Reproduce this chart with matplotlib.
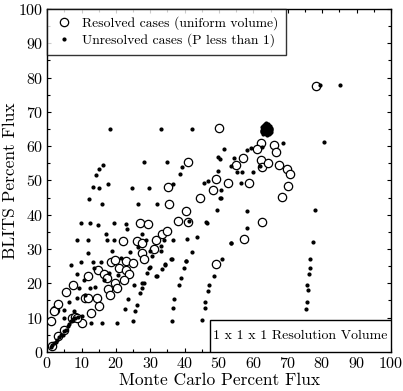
import matplotlib
matplotlib.use('Agg')
import matplotlib.pyplot as plt
from matplotlib.patches import Rectangle

plt.rcParams['font.family'] = ['cmr10', 'DejaVu Serif']
plt.rcParams['axes.formatter.use_mathtext'] = True

# resolved cases (open circles)
res_x = [1.4, 2.3, 3.3, 4.8, 7.2, 8.2, 1.1, 2.1, 3.2, 5.4, 7.4, 10.0, 8.6, 11.8, 11.1, 12.0,
         12.8, 14.5, 15.2, 14.8, 16.4, 17.4, 17.7, 18.4, 18.6, 19.8, 19.8, 20.3, 21.0, 22.1,
         23.0, 23.0, 23.7, 22.5, 25.0, 26.0, 26.9, 27.6, 27.6, 29.4, 28.1, 31.2, 31.7, 33.4,
         34.9, 35.1, 35.4, 40.4, 41.0, 40.9, 44.5, 38.1, 49.9, 48.3, 49.2, 52.6, 58.7, 55.0,
         57.0, 62.1, 61.1, 66.0, 66.5, 62.1, 62.4, 64.2, 67.4, 69.7, 70.6, 70.2, 68.4, 62.4,
         57.4, 49.2, 78.1]
res_y = [1.8, 12.1, 4.5, 6.5, 9.9, 10.1, 8.9, 11.8, 14.1, 17.5, 19.5, 8.4, 10.0, 22.1, 15.7, 15.7,
         11.3, 15.7, 13.3, 24.0, 22.6, 21.6, 18.4, 16.7, 26.3, 26.8, 20.1, 18.6, 24.5, 32.3,
         26.4, 23.8, 22.8, 21.1, 26.0, 32.4, 37.7, 31.9, 28.9, 37.4, 27.0, 29.9, 32.6, 34.3,
         35.3, 48.0, 43.1, 41.1, 37.9, 55.5, 44.8, 38.3, 65.3, 47.2, 50.4, 49.3, 49.3, 54.5,
         56.5, 61.0, 59.2, 60.2, 58.2, 56.0, 53.8, 55.1, 54.6, 53.4, 51.9, 48.3, 45.3, 38.0,
         32.8, 25.5, 77.6]

# unresolved cases (small dots)
unr_x = [1.0, 1.5, 2.0, 2.5, 3.0, 3.5, 4.0, 4.5, 5.0, 5.5, 6.0, 6.5, 7.0, 7.5, 8.0, 9.0, 10.0,
         18.2, 16.2, 15.2, 14.3, 13.3, 15.2, 17.7, 12.2, 15.9, 9.9, 12.5, 14.7, 19.5, 23.0,
         8.8, 11.9, 17.4, 19.5, 17.1, 33.1, 42.2, 28.1, 34.9, 39.1, 38.6, 24.7, 29.5, 36.5,
         26.4, 32.0, 49.8, 49.8, 46.8, 45.6, 49.5, 46.4, 23.2, 27.6, 41.2, 43.6, 40.8,
         68.7, 58.2, 53.6, 51.5, 50.4, 54.3, 58.2, 59.4, 62.6, 53.6, 55.1, 56.8, 59.9, 56.3,
         61.9, 50.7, 50.4, 50.6, 46.1, 58.2,
         24.9, 25.7, 26.1, 27.1, 27.6, 28.1, 29.1, 29.7, 31.8, 33.4, 34.4, 36.3, 40.4,
         36.3, 36.5, 37.0, 38.3, 38.8, 39.7, 40.5, 42.0,
         45.1, 45.8, 45.8, 46.7, 47.0, 48.5, 50.9, 53.6,
         75.4, 75.5, 75.9, 75.7, 76.2, 76.4, 76.5, 77.3, 77.8, 80.6, 85.2, 79.3,
         28.8, 33.9, 36.6, 12.0, 29.8, 33.1, 6.9, 9.9, 13.3, 15.7, 13.5, 35.9, 34.2, 32.0,
         8.8, 10.8, 9.4, 10.9, 8.8, 6.4, 4.8, 7.9, 5.0, 12.7, 15.9, 20.3, 22.7, 23.4, 25.2,
         27.6, 30.0, 14.0, 16.5, 18.0, 20.5, 21.5, 24.0, 26.5, 30.5, 33.0, 12.5, 19.0,
         # dense cluster near (64, 65)
         62.5, 63.2, 64.0, 64.8, 63.6, 62.8, 64.4, 63.0, 65.0,
         62.4, 62.6, 63.0, 63.4, 63.8, 64.2, 64.6, 65.0, 62.8, 63.2, 63.6, 64.0, 64.4, 64.8,
         63.0, 63.4, 63.8, 64.2, 64.6, 63.2, 63.6, 64.0, 64.4, 63.6, 64.0,
         62.6, 63.0, 63.4, 63.8, 64.2, 64.6, 65.0, 62.7, 63.3, 63.9, 64.5, 65.1, 62.9, 63.5,
         64.1, 64.7]
unr_y = [1.5, 2.0, 2.5, 3.0, 3.5, 4.3, 4.8, 5.0, 6.0, 6.5, 7.5, 8.0, 9.0, 9.5, 10.0, 10.3, 10.5,
         65.1, 54.6, 53.2, 51.6, 48.0, 47.7, 49.0, 44.6, 43.0, 37.7, 37.5, 37.0, 37.5, 37.2,
         32.5, 32.5, 32.5, 32.6, 34.3, 65.1, 65.1, 55.3, 55.3, 54.0, 51.8, 47.7, 47.7, 49.1,
         43.1, 43.1, 56.8, 52.7, 49.8, 49.3, 41.4, 37.7, 35.8, 34.3, 38.3, 33.6, 32.8,
         61.0, 36.2, 31.8, 59.2, 56.3, 56.5, 59.0, 59.4, 59.7, 54.3, 52.4, 52.4, 52.6, 49.3,
         54.3, 47.3, 45.0, 44.9, 38.0, 41.1,
         8.9, 11.8, 13.8, 17.2, 18.6, 20.1, 23.0, 24.5, 22.1, 24.3, 25.5, 27.0, 26.5,
         8.9, 12.8, 15.5, 19.5, 21.6, 24.5, 26.5, 29.2,
         9.4, 12.8, 14.5, 17.7, 19.4, 22.1, 27.0, 31.8,
         12.5, 14.5, 18.0, 19.6, 22.6, 24.5, 27.2, 32.1, 41.5, 61.2, 77.8, 77.8,
         32.5, 32.5, 32.5, 28.7, 29.4, 29.4, 25.4, 26.3, 26.3, 26.3, 24.5, 27.0, 25.2, 22.1,
         22.6, 21.1, 18.6, 16.7, 15.7, 14.5, 12.3, 11.8, 10.0, 8.4, 8.4, 8.4, 12.6, 15.4, 19.4,
         20.1, 24.8, 19.0, 21.0, 23.0, 22.5, 27.5, 29.0, 30.5, 28.0, 31.0, 18.5, 29.5,
         64.0, 65.5, 63.8, 65.0, 66.5, 63.5, 66.0, 64.8, 64.2,
         64.8, 65.6, 66.2, 66.6, 66.8, 66.6, 66.0, 65.2, 64.2, 63.8, 63.5, 63.2, 63.4, 63.9,
         65.0, 65.3, 65.6, 65.0, 64.6, 64.4, 64.6, 64.9, 65.2, 65.8, 65.4,
         64.4, 64.0, 64.3, 64.1, 64.5, 64.0, 64.6, 65.3, 65.2, 65.4, 65.6, 65.0, 66.0, 66.2,
         66.2, 65.8]

xticks = [0, 10, 20, 30, 40, 50, 60, 70, 80, 90, 100]
yticks = [0, 10, 20, 30, 40, 50, 60, 70, 80, 90, 100]

fig = plt.figure(figsize=(4.03, 3.91), dpi=100)
ax = fig.add_axes([0.117, 0.1, 0.853, 0.877])

ax.plot(res_x, res_y, 'o', mfc='white', mec='black', mew=0.9, ms=6.0, ls='none',
        label='Resolved cases (uniform volume)', zorder=3)
ax.plot(unr_x, unr_y, '.', color='black', ms=4, ls='none',
        label='Unresolved cases (P less than 1)', zorder=4)

ax.set_xlim(0, 100)
ax.set_ylim(0, 100)
ax.set_xticks(xticks)
ax.set_yticks(yticks)
ax.set_xticks(range(0, 101, 5), minor=True)
ax.set_yticks(range(0, 101, 5), minor=True)
ax.tick_params(direction='in', top=True, right=True, which='both', labelsize=11.5,
               length=3, width=0.8, pad=3)
ax.tick_params(which='minor', length=2)
for s in ax.spines.values():
    s.set_linewidth(1.0)

ax.set_xlabel('Monte Carlo Percent Flux', fontsize=12.5, labelpad=1)
ax.set_ylabel('BLITS Percent Flux', fontsize=12.5, labelpad=0)

leg = ax.legend(loc='upper left', borderaxespad=0, fontsize=9.8, frameon=True,
                fancybox=False, edgecolor='black', handletextpad=0.6,
                borderpad=0.55, labelspacing=0.25, handlelength=1.4)
leg.get_frame().set_linewidth(1.0)

ax.add_patch(Rectangle((0.473, 0.0), 0.527, 0.094, transform=ax.transAxes,
                       facecolor='white', edgecolor='black', lw=1.0, zorder=5))
ax.text(0.736, 0.047, '1 x 1 x 1 Resolution Volume', transform=ax.transAxes,
        ha='center', va='center', fontsize=10, zorder=6)

plt.savefig('out.png', dpi=100)
